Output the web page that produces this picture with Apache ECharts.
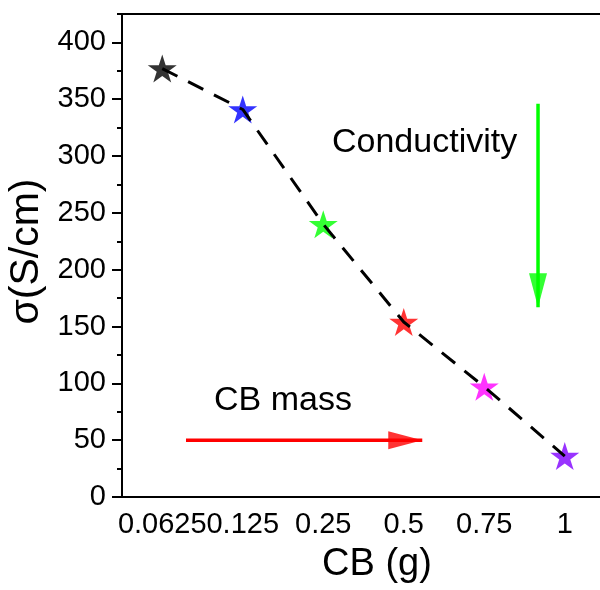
<!DOCTYPE html>
<html>
<head>
<meta charset="utf-8">
<script src="https://cdn.jsdelivr.net/npm/echarts@6/dist/echarts.min.js"></script>
<style>html,body{margin:0;padding:0;background:#fff}#c{width:600px;height:590px}</style>
</head>
<body>
<div id="c"></div>
<script>
// ---- data ----
const categories = ['0.0625', '0.125', '0.25', '0.5', '0.75', '1'];
const sigma = [377, 341, 240, 154, 97, 36];
const yMajorTicks = [0, 50, 100, 150, 200, 250, 300, 350, 400];
// annotation arrows in (category index, value) coordinates: [start, tip]
const conductivityArrow = [[4.668, 346], [4.668, 167]];
const massArrow = [[0.295, 50], [3.23, 50]];

// ---- styles ----
const starColors = ['#000000', '#0000ff', '#00ff00', '#ff0000', '#ff00ff', '#7f00ff'];
const FONT = 'Liberation Sans, Arial, sans-serif';
const STAR = 'path://M50 0 L61.23 34.55 L97.55 34.55 L68.17 55.9 L79.39 90.45 L50 69.1 L20.61 90.45 L31.83 55.9 L2.45 34.55 L38.77 34.55 Z';

const chart = echarts.init(document.getElementById('c'), null, {renderer: 'canvas'});

const option = {
  animation: false,
  backgroundColor: '#fff',
  grid: {left: 122, right: -5, top: 14, bottom: 93, outerBoundsMode: 'none'},
  xAxis: [{
    type: 'category',
    data: categories,
    boundaryGap: true,
    name: 'CB (g)',
    nameLocation: 'middle',
    nameGap: 49,
    nameTextStyle: {fontFamily: FONT, fontSize: 38, color: '#000', padding: [0, 0, 0, 27]},
    axisLine: {onZero: false, lineStyle: {color: '#000', width: 2}},
    axisTick: {alignWithLabel: true, length: 9, lineStyle: {color: '#000', width: 2}},
    axisLabel: {interval: 0, margin: 13, fontFamily: FONT, fontSize: 29, color: '#000'},
    splitLine: {show: false}
  }, {
    type: 'value',
    position: 'top',
    min: -0.5, max: 5.5,
    axisLine: {show: true, onZero: false, lineStyle: {color: '#000', width: 2}},
    axisTick: {show: false},
    axisLabel: {show: false},
    splitLine: {show: false}
  }],
  yAxis: [{
    type: 'value',
    position: 'left',
    min: 0, max: 425, interval: 25,
    name: 'σ(S/cm)',
    nameLocation: 'middle',
    nameGap: 64,
    nameTextStyle: {fontFamily: FONT, fontSize: 41, color: '#000', padding: [0, 0, 0, 8]},
    axisLine: {show: true, onZero: false, lineStyle: {color: '#000', width: 2}},
    axisTick: {show: true, length: 5, lineStyle: {color: '#000', width: 2}},
    axisLabel: {margin: 16, fontFamily: FONT, fontSize: 29, color: '#000',
      formatter: v => (v % 50 === 0 && v <= 400) ? String(v) : ''},
    splitLine: {show: false}
  }, {
    type: 'value',
    position: 'left',
    min: 0, max: 425, interval: 50,
    axisLine: {show: false, onZero: false},
    axisTick: {show: true, length: 10, customValues: yMajorTicks, lineStyle: {color: '#000', width: 2}},
    axisLabel: {show: false},
    splitLine: {show: false}
  }],
  series: [{
    type: 'scatter',
    xAxisIndex: 0, yAxisIndex: 0,
    symbol: STAR,
    symbolSize: [29, 28],
    z: 2,
    data: sigma.map((v, i) => ({value: v, itemStyle: {color: starColors[i]}}))
  }, {
    type: 'line',
    xAxisIndex: 0, yAxisIndex: 0,
    data: sigma,
    symbol: 'none',
    z: 5,
    lineStyle: {color: '#000', width: 3, type: [17, 12]}
  }, {
    // arrow shafts
    type: 'line',
    xAxisIndex: 1, yAxisIndex: 0,
    data: conductivityArrow,
    symbol: 'none',
    z: 3,
    lineStyle: {color: '#00ff00', width: 3.5}
  }, {
    type: 'line',
    xAxisIndex: 1, yAxisIndex: 0,
    data: massArrow,
    symbol: 'none',
    z: 3,
    lineStyle: {color: '#ff0000', width: 3.5}
  }, {
    // arrow heads at the tips
    type: 'scatter',
    xAxisIndex: 1, yAxisIndex: 0,
    symbol: 'triangle',
    symbolSize: [18, 34],
    z: 4,
    data: [
      {value: conductivityArrow[1], symbolRotate: 180, symbolOffset: [0, -17], itemStyle: {color: '#00ff00'}},
      {value: massArrow[1], symbolRotate: -90, symbolOffset: [-17, 0], itemStyle: {color: '#ff0000'}}
    ]
  }],
  graphic: [{
    type: 'text',
    left: 332, top: 126,
    style: {text: 'Conductivity', fontFamily: FONT, fontSize: 34, fill: '#000'}
  }, {
    type: 'text',
    left: 214, top: 384,
    style: {text: 'CB mass', fontFamily: FONT, fontSize: 34, fill: '#000'}
  }]
};
chart.setOption(option);
</script>
</body>
</html>
